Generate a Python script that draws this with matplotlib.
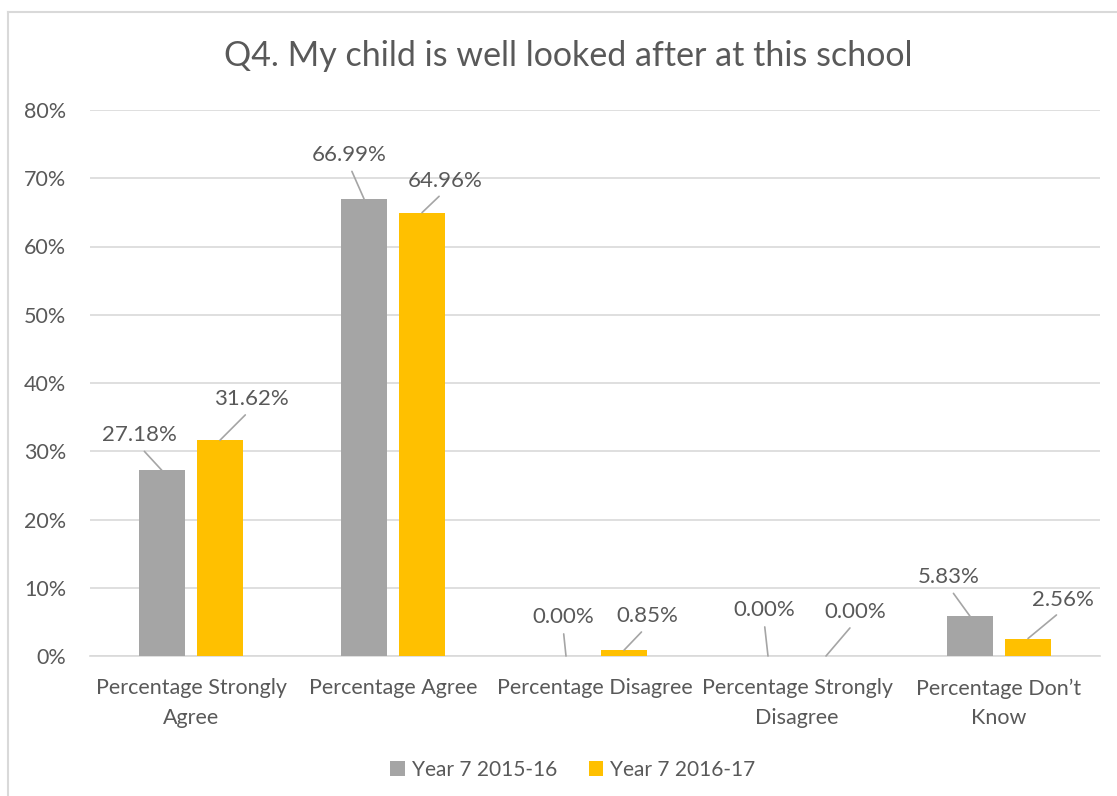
import matplotlib
matplotlib.use("Agg")
import matplotlib.pyplot as plt
from matplotlib.lines import Line2D
from matplotlib.ticker import FuncFormatter
import numpy as np

categories = ["Percentage Strongly\nAgree", "Percentage Agree", "Percentage Disagree",
              "Percentage Strongly\nDisagree", "Percentage Don\u2019t\nKnow"]
series_names = ["Year 7 2015-16", "Year 7 2016-17"]
year_2015 = [27.18, 66.99, 0.00, 0.00, 5.83]
year_2016 = [31.62, 64.96, 0.85, 0.00, 2.56]
title = "Q4. My child is well looked after at this school"

GRAY = "#a5a5a5"
GOLD = "#ffc000"
TXT = "#595959"
GRID = "#d9d9d9"
FS = 15.5

plt.rcParams['font.family'] = ['Lato', 'DejaVu Sans']

W, H = 1117, 796
fig = plt.figure(figsize=(W / 100, H / 100), dpi=100)
ax = fig.add_axes([90 / W, 1 - 656 / H, (1100 - 90) / W, (656 - 110) / H])

x = np.arange(len(categories))
bw = 0.2277
off = 0.1436
b1 = ax.bar(x - off, year_2015, bw, color=GRAY, label=series_names[0], zorder=3)
b2 = ax.bar(x + off, year_2016, bw, color=GOLD, label=series_names[1], zorder=3)

ax.set_xlim(-0.5, len(categories) - 0.5)
ax.set_ylim(0, 80)
ax.set_yticks(np.arange(0, 81, 10))
ax.yaxis.set_major_formatter(FuncFormatter(lambda v, p: f"{v:.0f}%"))
ax.grid(axis='y', color=GRID, linewidth=1.2, zorder=0)
for s in ['top', 'right', 'left']:
    ax.spines[s].set_visible(False)
ax.spines['bottom'].set_color(GRID)
ax.spines['bottom'].set_linewidth(1.2)
ax.tick_params(axis='y', length=0, pad=17, labelsize=FS, labelcolor=TXT)
ax.tick_params(axis='x', length=0, pad=16, labelsize=FS, labelcolor=TXT)
ax.set_xticks(x)
ax.set_xticklabels(categories, linespacing=1.6)

# label offsets in pixels (dx, dy) from top of each bar to the label centre
offs_2015 = [(-23, 35), (-15, 44), (-3, 39), (-4, 46), (-21, 39)]
offs_2016 = [(31, 41), (23, 32), (23, 34), (29, 44), (35, 39)]
for bars, vals, offs in [(b1, year_2015, offs_2015), (b2, year_2016, offs_2016)]:
    for rect, v, (dx, dy) in zip(bars, vals, offs):
        xc = rect.get_x() + rect.get_width() / 2
        ax.annotate(f"{v:.2f}%", xy=(xc, v), xytext=(dx, dy), textcoords='offset pixels',
                    ha='center', va='center', fontsize=FS + 0.5, color=TXT, zorder=5,
                    annotation_clip=False,
                    arrowprops=dict(arrowstyle='-', color=GRAY, lw=1.2,
                                    relpos=(0.5, 0.0), shrinkA=3, shrinkB=0))

fig.text(568 / W, 1 - 56 / H, title, ha='center', va='center', fontsize=24.5, color=TXT)

leg = fig.legend(handles=[b1, b2], labels=series_names, loc='center',
                 bbox_to_anchor=(573 / W, 1 - 770 / H), ncol=2, frameon=False,
                 fontsize=15, handlelength=0.7, handleheight=0.7,
                 handletextpad=0.35, columnspacing=1.5)
for t in leg.get_texts():
    t.set_color(TXT)

# chart frame (left and top edges visible)
fig.add_artist(Line2D([7.5 / W, 7.5 / W], [0, 1 - 11.5 / H], color=GRID, lw=1.5,
                      transform=fig.transFigure))
fig.add_artist(Line2D([7.5 / W, 1], [1 - 11.5 / H, 1 - 11.5 / H], color=GRID, lw=1.5,
                      transform=fig.transFigure))

fig.savefig("out.png", dpi=100, facecolor='white')
